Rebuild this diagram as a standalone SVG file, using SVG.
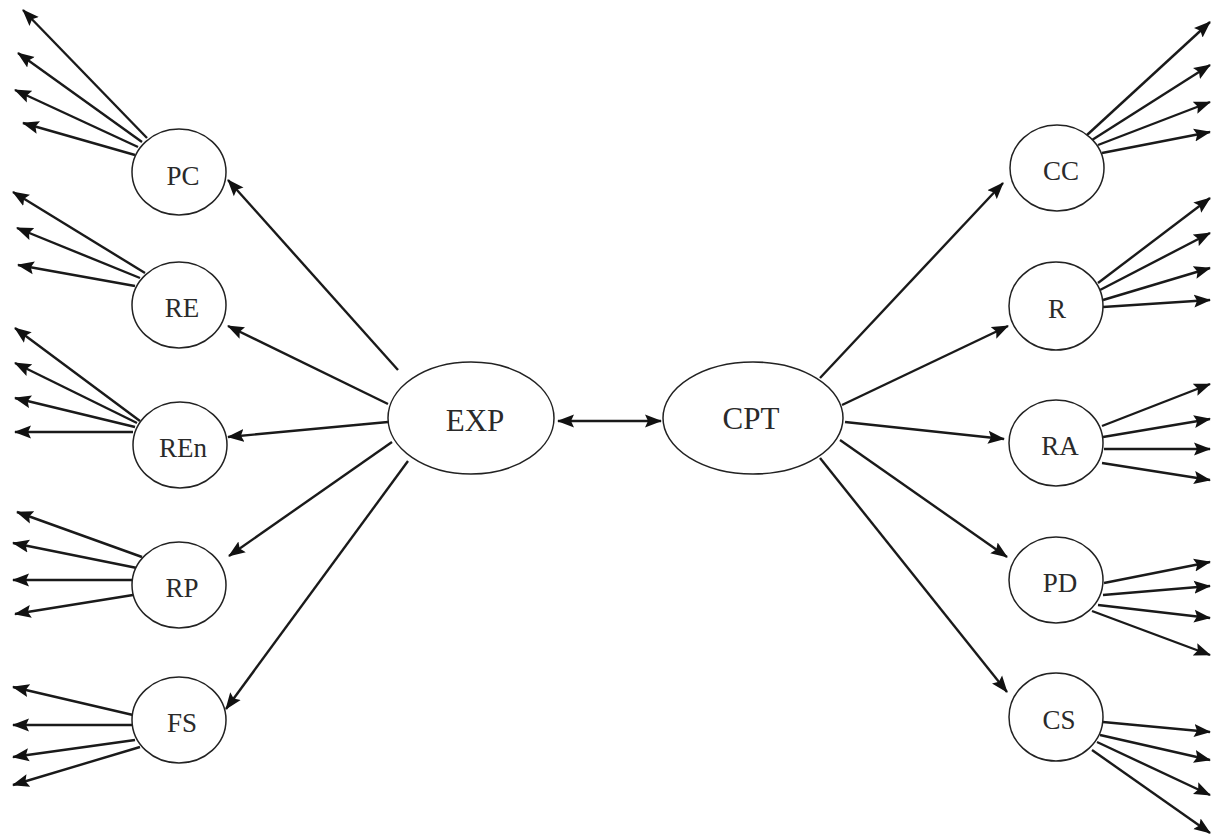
<svg xmlns="http://www.w3.org/2000/svg" width="1219" height="840" viewBox="0 0 1219 840">
<style>
.node ellipse{fill:#fff;stroke:#222;stroke-width:1.5}
.node text{font-family:"Liberation Serif","Times New Roman",serif;fill:#2a2a2a;text-anchor:middle}
.small text{font-size:27px}
.big text{font-size:31px}
#connectors line{stroke:#1a1a1a;stroke-width:2.4;marker-end:url(#ah)}
</style>
<defs>
<marker id="ah" markerUnits="userSpaceOnUse" markerWidth="18" markerHeight="14" refX="16" refY="7" orient="auto-start-reverse" viewBox="0 0 18 14">
<path d="M0,0.5 L17,7 L0,13.5 L3,7 z" fill="#111"/>
</marker>
</defs>
<rect width="1219" height="840" fill="#fff"/>
<g id="connectors">
<!-- central -->
<line x1="558" y1="421" x2="661" y2="421" marker-start="url(#ah)"/>
<!-- EXP to left -->
<line x1="398" y1="370" x2="228" y2="180"/>
<line x1="388" y1="404" x2="228" y2="326"/>
<line x1="388" y1="422" x2="228" y2="437"/>
<line x1="392" y1="442" x2="229" y2="556"/>
<line x1="408" y1="461" x2="226" y2="709"/>
<!-- CPT to right -->
<line x1="820" y1="378" x2="1003" y2="183"/>
<line x1="842" y1="405" x2="1008" y2="326"/>
<line x1="845" y1="422" x2="1004" y2="439"/>
<line x1="840" y1="440" x2="1007" y2="557"/>
<line x1="820" y1="458" x2="1007" y2="692"/>
<!-- PC -->
<line x1="147" y1="138" x2="23" y2="10"/>
<line x1="142" y1="142" x2="18" y2="53"/>
<line x1="138" y1="147" x2="15" y2="90"/>
<line x1="135" y1="155" x2="23" y2="123"/>
<!-- RE -->
<line x1="145" y1="273" x2="13" y2="192"/>
<line x1="140" y1="278" x2="17" y2="228"/>
<line x1="135" y1="286" x2="18" y2="265"/>
<!-- REn -->
<line x1="140" y1="421" x2="15" y2="328"/>
<line x1="137" y1="423" x2="15" y2="363"/>
<line x1="135" y1="427" x2="15" y2="398"/>
<line x1="133" y1="432" x2="15" y2="432"/>
<!-- RP -->
<line x1="142" y1="557" x2="17" y2="512"/>
<line x1="137" y1="568" x2="13" y2="543"/>
<line x1="133" y1="580" x2="13" y2="580"/>
<line x1="133" y1="595" x2="15" y2="614"/>
<!-- FS -->
<line x1="133" y1="715" x2="13" y2="687"/>
<line x1="132" y1="725" x2="13" y2="725"/>
<line x1="135" y1="740" x2="13" y2="757"/>
<line x1="140" y1="747" x2="13" y2="785"/>
<!-- CC -->
<line x1="1087" y1="135" x2="1210" y2="22"/>
<line x1="1092" y1="140" x2="1210" y2="65"/>
<line x1="1098" y1="145" x2="1210" y2="102"/>
<line x1="1102" y1="153" x2="1210" y2="132"/>
<!-- R -->
<line x1="1098" y1="283" x2="1210" y2="198"/>
<line x1="1100" y1="290" x2="1210" y2="233"/>
<line x1="1103" y1="300" x2="1210" y2="268"/>
<line x1="1103" y1="307" x2="1210" y2="300"/>
<!-- RA -->
<line x1="1102" y1="426" x2="1210" y2="384"/>
<line x1="1103" y1="437" x2="1210" y2="419"/>
<line x1="1104" y1="449" x2="1210" y2="449"/>
<line x1="1102" y1="463" x2="1210" y2="480"/>
<!-- PD -->
<line x1="1104" y1="583" x2="1210" y2="562"/>
<line x1="1103" y1="595" x2="1210" y2="586"/>
<line x1="1098" y1="605" x2="1210" y2="618"/>
<line x1="1092" y1="611" x2="1210" y2="655"/>
<!-- CS -->
<line x1="1103" y1="722" x2="1210" y2="732"/>
<line x1="1100" y1="735" x2="1210" y2="760"/>
<line x1="1097" y1="742" x2="1210" y2="795"/>
<line x1="1092" y1="750" x2="1210" y2="833"/>
</g>
<g id="EXP" class="node big"><ellipse cx="471" cy="418" rx="83" ry="56"/><text x="475" y="431">EXP</text></g>
<g id="CPT" class="node big"><ellipse cx="753" cy="418" rx="90" ry="56"/><text x="751" y="429">CPT</text></g>
<g id="PC" class="node small"><ellipse cx="179" cy="172" rx="47" ry="43"/><text x="183" y="185">PC</text></g>
<g id="RE" class="node small"><ellipse cx="179" cy="305" rx="47" ry="43"/><text x="182" y="317">RE</text></g>
<g id="REn" class="node small"><ellipse cx="180" cy="445" rx="47" ry="43"/><text x="183" y="457">REn</text></g>
<g id="RP" class="node small"><ellipse cx="179" cy="585" rx="47" ry="43"/><text x="182" y="597">RP</text></g>
<g id="FS" class="node small"><ellipse cx="179" cy="720" rx="47" ry="43"/><text x="182" y="732">FS</text></g>
<g id="CC" class="node small"><ellipse cx="1057" cy="168" rx="47" ry="43"/><text x="1061" y="180">CC</text></g>
<g id="R" class="node small"><ellipse cx="1056" cy="306" rx="47" ry="44"/><text x="1057" y="318">R</text></g>
<g id="RA" class="node small"><ellipse cx="1056" cy="443" rx="47" ry="43"/><text x="1060" y="455">RA</text></g>
<g id="PD" class="node small"><ellipse cx="1056" cy="580" rx="47" ry="43"/><text x="1060" y="592">PD</text></g>
<g id="CS" class="node small"><ellipse cx="1056" cy="717" rx="47" ry="44"/><text x="1059" y="729">CS</text></g>
</svg>
